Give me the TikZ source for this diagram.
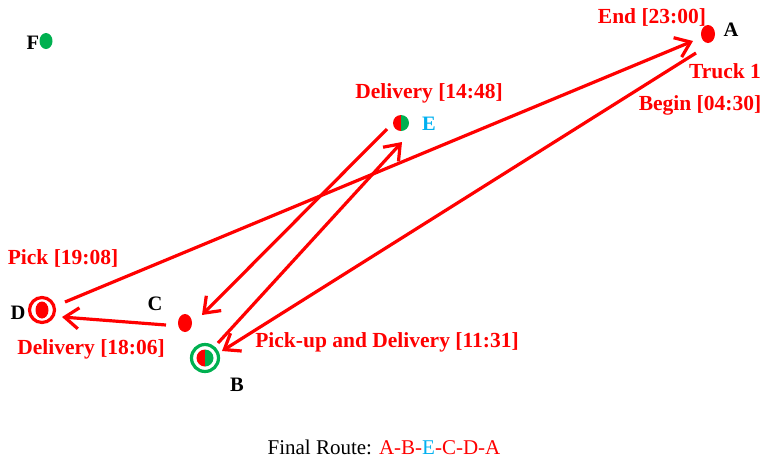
\documentclass[tikz,border=0pt]{standalone}
\usepackage{fontspec}
\setmainfont{Liberation Serif}
\usetikzlibrary{arrows.meta,shapes.geometric}
\definecolor{myred}{RGB}{255,0,0}
\definecolor{mygreen}{RGB}{0,176,80}
\definecolor{mycyan}{RGB}{0,176,240}
\tikzset{
  lbl/.style={text=myred,font=\fontsize{21.5}{24}\selectfont\bfseries,inner sep=0pt},
  letter/.style={text=black,font=\fontsize{20.5}{22}\selectfont\bfseries,inner sep=0pt},
  route/.style={draw=myred,line width=3.2pt,-{Straight Barb[length=14pt,width=21pt,line width=3.2pt]}},
  dot/.style={ellipse,minimum width=14pt,minimum height=18pt,inner sep=0pt},
}
\begin{document}
\begin{tikzpicture}[x=1pt,y=-1pt]
\useasboundingbox (0,0) rectangle (763,459);
% dots
\node[dot,fill=myred] (A) at (708,34) {};
\node[dot,fill=mygreen,minimum width=13pt,minimum height=16pt] (F) at (46,41) {};
\node[dot,fill=myred] (C) at (185,323) {};
\node[circle,draw=myred,line width=3.2pt,minimum size=25pt,inner sep=0pt] (Dring) at (42,310) {};
\node[dot,fill=myred,minimum width=13pt,minimum height=17pt] (D) at (42,310) {};
% E half/half
\coordinate (E) at (401,123);
\fill[myred] ([yshift=-8pt]E) arc[start angle=-90,end angle=-270,radius=8pt] -- cycle;
\fill[mygreen] ([yshift=-8pt]E) arc[start angle=-90,end angle=90,radius=8pt] -- cycle;
% B half/half with ring
\coordinate (B) at (205,358);
\fill[myred] ([yshift=-8.5pt]B) arc[start angle=-90,end angle=-270,radius=8.5pt] -- cycle;
\fill[mygreen] ([yshift=-8.5pt]B) arc[start angle=-90,end angle=90,radius=8.5pt] -- cycle;
\node[circle,draw=mygreen,line width=3.2pt,minimum size=27pt,inner sep=0pt] (Bring) at (B) {};
% letters
\node[letter] (lA) at (731,30) {A};
\node[letter] (lF) at (33,43) {F};
\node[letter] (lC) at (155,304) {C};
\node[letter] (lD) at (18,313) {D};
\node[letter] (lB) at (237,385) {B};
\node[letter,text=mycyan] (lE) at (429,124) {E};
% labels
\node[lbl] (tEnd) at (652,17) {End [23:00]};
\node[lbl] (tTruck) at (725,71) {Truck 1};
\node[lbl] (tBegin) at (700,105) {Begin [04:30]};
\node[lbl] (tDelE) at (429,93) {Delivery [14:48]};
\node[lbl] (tPick) at (63,258) {Pick [19:08]};
\node[lbl] (tDelC) at (91,349) {Delivery [18:06]};
\node[lbl] (tPD) at (387,342) {Pick-up and Delivery [11:31]};
\node[font=\fontsize{21}{24}\selectfont,inner sep=0pt] (final) at (384,447) {Final Route: \textcolor{myred}{A-B-}\textcolor{mycyan}{E}\textcolor{myred}{-C-D-A}};
% connector endpoints
\coordinate (a1) at (696,53);
\coordinate (b1) at (222,351);
\coordinate (b2) at (218,343);
\coordinate (e1) at (402,142);
\coordinate (e2) at (387,129);
\coordinate (c1) at (202,315);
\coordinate (c2) at (166,325);
\coordinate (d1) at (62,317);
\coordinate (d2) at (65,302);
\coordinate (a2) at (693,41);
\draw[route] (a1) -- (b1);
\draw[route] (b2) -- (e1);
\draw[route] (e2) -- (c1);
\draw[route] (c2) -- (d1);
\draw[route] (d2) -- (a2);
\end{tikzpicture}
\end{document}
